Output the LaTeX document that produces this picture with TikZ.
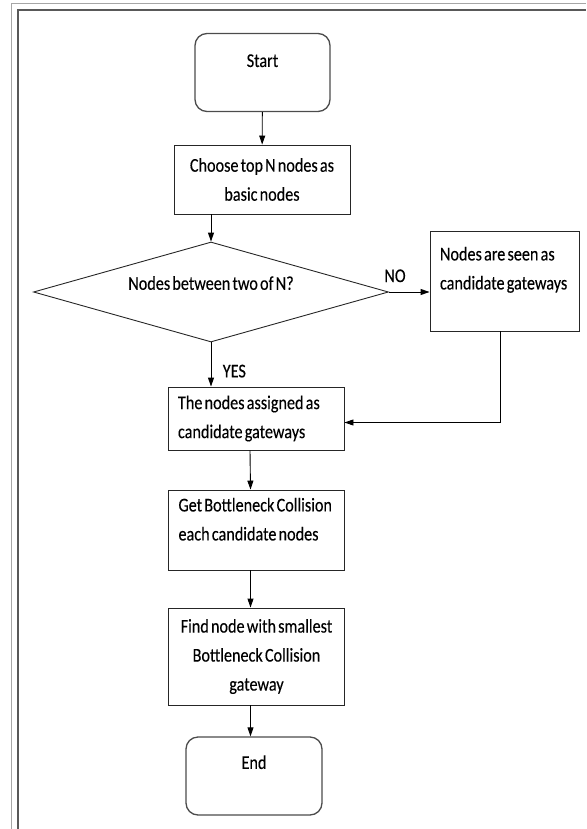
\documentclass[tikz,border=0pt]{standalone}
\usepackage{fontspec}
\setmainfont{Carlito}[FakeStretch=0.83,WordSpace=0.6,FakeBold=0.25]
\usetikzlibrary{shapes.geometric,arrows.meta,positioning}

\begin{document}
\begin{tikzpicture}[x=1pt,y=-1pt,
    every node/.style={font=\fontsize{19.5}{29}\selectfont,execute at begin node={\spaceskip=\fontdimen2\font\relax}},
    proc/.style={draw=black!85,line width=0.9pt,rectangle,minimum width=176pt,inner xsep=10pt},
    term/.style={draw=black!70,line width=1.3pt,rectangle,rounded corners=12pt,minimum width=135pt,minimum height=78pt},
    flow/.style={draw=black,line width=0.9pt,-{Triangle[length=9pt,width=6pt]}}]
    \useasboundingbox (0,0) rectangle (586,829);
    % frame
    \draw [gray!70,line width=1pt] (11,829) -- (11,4) -- (586,4);
    \draw [black!65,line width=2pt] (18,829) -- (18,10) -- (586,10);
    % boxes
    \node [term,align=center] (start) at (262.5,72.5) {Start\\[-14pt]\strut};
    \node [proc,align=center,minimum height=69pt] (choose) at (262,179.5) {Choose top N nodes as\\basic nodes};
    \node [draw=black!85,line width=0.9pt,diamond,aspect=3.55,inner sep=0pt,minimum width=355pt,minimum height=100pt,text depth=18pt] (decide) at (211,292) {Nodes between two of N?};
    \node [proc,align=left,minimum width=149pt,minimum height=100pt,text width=129pt] (seen) at (504.5,281) {Nodes are seen as\\candidate gateways\\[-12pt]\strut};
    \node [proc,align=left,minimum height=63pt,text width=156pt] (assign) at (256,418.5) {The nodes assigned as\\candidate gateways};
    \node [proc,align=left,minimum height=80pt,text width=156pt] (neck) at (256.5,530) {Get Bottleneck Collision\\each candidate nodes\\[-16pt]\strut};
    \node [proc,align=center,minimum height=97pt] (find) at (256.5,656.5) {Find node with smallest\\Bottleneck Collision\\gateway};
    \node [term,align=center,minimum width=136pt] (stop) at (254,776) {End\\[-10pt]\strut};
    % arrows
    \draw [flow] (start) -- (choose);
    \draw [flow] (decide.north |- choose.south) -- (decide.north);
    \draw [flow] (decide.east) -- (decide.east -| seen.west) node [pos=0.15,above=6pt] {NO};
    \draw [flow] (decide.south) -- (decide.south |- assign.north) node [pos=0.65,right=8pt] {YES};
    \draw [flow] ([xshift=-4pt]seen.south) |- ([yshift=-4pt]assign.east);
    \draw [flow] ([xshift=-6pt]assign.south) -- ([xshift=-6pt]neck.north);
    \draw [flow] ([xshift=-6pt]neck.south) -- ([xshift=-6pt]find.north);
    \draw [flow] ([xshift=-6pt]find.south) -- ([xshift=-6pt]find.south |- stop.north);
\end{tikzpicture}
\end{document}
